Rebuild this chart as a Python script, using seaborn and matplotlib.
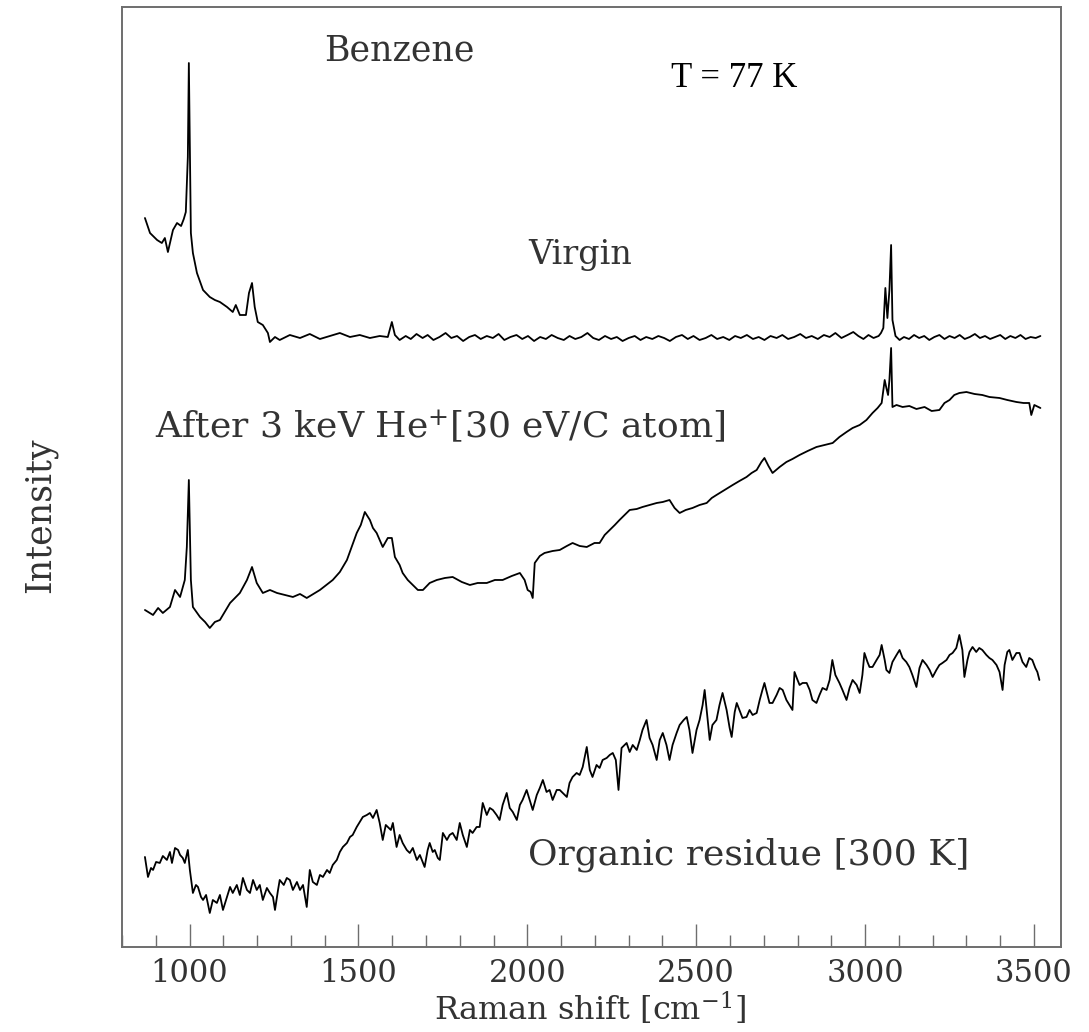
import matplotlib
matplotlib.use("Agg")
import matplotlib.pyplot as plt
import seaborn as sns
import pandas as pd
from matplotlib.ticker import MultipleLocator

# ---------------- data (Raman shift in cm^-1, intensity in arbitrary units) ----------------
virgin_x = [868, 883, 904, 918, 927, 936, 951, 963, 975, 983, 989, 995, 998, 1001, 1004,
            1010, 1022, 1040, 1060, 1075, 1090, 1111, 1128, 1137, 1149, 1167, 1176, 1185,
            1193, 1202, 1217, 1232, 1238, 1253, 1267, 1297, 1327, 1356, 1386, 1415, 1445,
            1475, 1504, 1534, 1563, 1587, 1599, 1608,
            1622, 1640, 1655, 1672, 1690, 1705, 1722, 1740, 1758, 1775, 1792, 1810, 1828,
            1845, 1862, 1880, 1898, 1915, 1932, 1950, 1968, 1985, 2002, 2020, 2038, 2055,
            2072, 2090, 2108, 2125, 2142, 2160, 2178, 2195, 2212, 2230, 2248, 2265, 2282,
            2300, 2318, 2335, 2352, 2370, 2388, 2405, 2422, 2440, 2458, 2475, 2492, 2510,
            2528, 2545, 2562, 2580, 2598, 2615, 2632, 2650, 2668, 2685, 2702, 2720, 2738,
            2755, 2772, 2790, 2808, 2825, 2842, 2860, 2878, 2895, 2912, 2930, 2948, 2965,
            2980, 2995, 3010, 3025, 3040, 3047, 3054, 3060, 3066, 3072, 3077, 3081, 3090,
            3102, 3115, 3130, 3145, 3160, 3175, 3190, 3205, 3220, 3235, 3250, 3265, 3280,
            3295, 3310, 3325, 3340, 3355, 3370, 3385, 3400, 3415, 3430, 3445, 3460, 3475,
            3490, 3505, 3519]
virgin_y = [729, 714, 707, 704, 709, 695, 717, 724, 721, 728, 735, 790, 884, 797, 714,
            694, 674, 657, 650, 647, 645, 640, 635, 642, 632, 632, 654, 664,
            640, 625, 622, 614, 605, 610, 607, 612, 609, 613, 608, 611, 614,
            610, 612, 609, 611, 610, 625, 612,
            607, 611, 608, 613, 609, 612, 607, 610, 614, 609, 611, 606, 610,
            612, 608, 611, 609, 613, 607, 610, 612, 608, 611, 606, 610, 608,
            612, 609, 607, 611, 608, 610, 614, 609, 607, 611, 608, 610, 606,
            609, 611, 607, 610, 608, 611, 609, 606, 610, 612, 608, 611, 607,
            609, 612, 608, 610, 607, 611, 609, 612, 608, 610, 607, 611, 609,
            612, 608, 610, 613, 609, 611, 608, 612, 610, 614, 609, 612, 615,
            611, 608, 612, 609, 611, 614, 619, 659, 629, 657, 702, 627, 611,
            607, 610, 608, 612, 609, 611, 607, 610, 612, 608, 611, 609, 612,
            608, 610, 613, 609, 611, 608, 610, 612, 608, 611, 609, 612, 608,
            610, 609, 611]

irradiated_x = [868, 892, 907, 921, 942, 957, 972, 986, 992, 998, 1004, 1010, 1031, 1046,
                1060, 1075, 1090, 1120, 1149, 1170, 1185, 1199, 1217, 1238, 1259, 1282,
                1306, 1327, 1347, 1386, 1424, 1445, 1466, 1495, 1507, 1519, 1534, 1543,
                1554, 1572, 1587, 1599, 1608, 1622, 1631, 1646, 1661, 1676, 1691, 1711,
                1732, 1756, 1779, 1806, 1830, 1853, 1880, 1904, 1927, 1954, 1978, 1992,
                2001, 2010, 2016, 2022, 2037, 2051, 2075, 2096, 2117, 2134, 2155, 2176,
                2199, 2214, 2229, 2244, 2259, 2273, 2288, 2303, 2324, 2341, 2362, 2383,
                2401, 2421, 2436, 2451, 2469, 2489, 2510, 2531, 2546, 2560, 2584, 2608,
                2628, 2649, 2664, 2679, 2693, 2702, 2714, 2726, 2747, 2767, 2785, 2806,
                2830, 2856, 2880, 2904, 2924, 2945, 2963, 2984, 3004, 3022, 3037, 3049,
                3058, 3063, 3068, 3072, 3077, 3081, 3093, 3111, 3131, 3152, 3176, 3197,
                3220, 3235, 3250, 3264, 3279, 3300, 3324, 3347, 3368, 3398, 3421, 3448,
                3469, 3486, 3492, 3501, 3519]
irradiated_y = [337, 332, 339, 334, 340, 357, 350, 367, 400, 467, 367, 340, 330, 325,
                319, 325, 327, 344, 354, 367, 380, 364, 354, 357, 354, 352,
                350, 353, 349, 357, 367, 375, 387, 414, 422, 435, 427, 419,
                414, 400, 409, 409, 390, 382, 374, 367, 362, 357, 357, 364,
                367, 369, 370, 365, 362, 364, 364, 367, 367, 371, 374, 367,
                357, 355, 349, 384, 391, 394, 396, 397, 401, 404, 401, 400,
                404, 404, 412, 417, 422, 427, 432, 437, 438, 440, 442, 444,
                445, 447, 439, 434, 437, 439, 442, 444, 449, 452, 457, 462,
                466, 470, 474, 477, 485, 489, 481, 474, 480, 485, 488, 492,
                496, 500, 502, 504, 510, 515, 519, 522, 527, 534, 539, 544,
                567, 559, 552, 567, 599, 540, 542, 540, 541, 538, 540, 536,
                537, 544, 547, 552, 554, 555, 553, 552, 550, 549, 547, 545,
                544, 544, 532, 542, 539]

residue_x = [868, 877, 886, 892, 901, 912, 921, 933, 942, 948, 957, 966, 972, 980, 986,
             995, 1001, 1010, 1019, 1025, 1034, 1040, 1049, 1060, 1069, 1081, 1090, 1099,
             1108, 1120, 1128, 1140, 1149, 1158, 1170, 1179, 1188, 1199, 1208, 1217, 1229,
             1238, 1247, 1253, 1262, 1267, 1279, 1288, 1297, 1306, 1318, 1327, 1336, 1347,
             1356, 1365, 1377, 1386, 1395, 1407, 1415, 1424, 1436, 1445, 1454, 1466, 1475,
             1483, 1495, 1504, 1513, 1525, 1534, 1543, 1554, 1563, 1572, 1581, 1587, 1596,
             1602, 1613, 1622, 1631, 1643, 1652, 1661, 1673, 1682, 1690, 1696, 1705, 1711,
             1720, 1726, 1735, 1741, 1750, 1762, 1770, 1779, 1791, 1800, 1809, 1821, 1830,
             1838, 1850, 1859, 1868, 1880, 1889, 1898, 1909, 1918, 1927, 1939, 1948, 1957,
             1969, 1978, 1986, 1998, 2007, 2016, 2028, 2037, 2046, 2057, 2066, 2075, 2087,
             2096, 2105, 2117, 2125, 2134, 2146, 2155, 2164, 2176, 2185, 2193, 2205, 2214,
             2223, 2235, 2244, 2253, 2262, 2270, 2279, 2294, 2303, 2312, 2324, 2333, 2341,
             2353, 2362, 2371, 2383, 2392, 2401, 2412, 2421, 2430, 2442, 2451, 2463, 2472,
             2480, 2489, 2501, 2510, 2519, 2525, 2534, 2540, 2548, 2560, 2569, 2578, 2590,
             2599, 2605, 2614, 2620, 2628, 2637, 2649, 2658, 2667, 2679, 2688, 2696, 2702,
             2711, 2717, 2726, 2738, 2747, 2756, 2767, 2776, 2785, 2791, 2800, 2806, 2815,
             2827, 2836, 2844, 2856, 2865, 2874, 2886, 2895, 2903, 2912, 2924, 2933, 2945,
             2954, 2963, 2975, 2984, 2992, 2998, 3007, 3013, 3022, 3034, 3043, 3049, 3058,
             3063, 3072, 3081, 3093, 3102, 3111, 3122, 3131, 3140, 3152, 3161, 3170, 3182,
             3191, 3200, 3211, 3220, 3229, 3241, 3250, 3259, 3270, 3279, 3288, 3294, 3303,
             3309, 3318, 3329, 3338, 3347, 3359, 3368, 3377, 3389, 3398, 3407, 3413, 3421,
             3427, 3436, 3448, 3457, 3466, 3477, 3486, 3495, 3504, 3510, 3516]
residue_y = [90, 70, 79, 77, 85, 84, 91, 87, 95, 84, 99, 97, 92, 89, 84,
             97, 77, 54, 62, 60, 50, 47, 52, 34, 47, 44, 52, 37,
             47, 60, 54, 62, 52, 69, 57, 54, 67, 57, 62, 47, 59,
             54, 50, 37, 57, 67, 62, 69, 67, 57, 65, 57, 62, 40,
             77, 65, 62, 72, 70, 77, 74, 82, 87, 95, 100, 104, 110,
             112, 120, 125, 130, 132, 134, 129, 137, 124, 107, 122, 120, 117,
             124, 100, 112, 104, 97, 94, 99, 87, 92, 85, 80, 97, 104,
             95, 97, 89, 87, 114, 107, 112, 114, 107, 124, 112, 100, 117,
             114, 120, 120, 144, 132, 139, 137, 132, 127, 142, 154, 139, 135,
             127, 142, 147, 157, 147, 137, 152, 159, 167, 155, 157, 147, 157,
             157, 154, 150, 164, 170, 174, 172, 180, 200, 177, 170, 182, 179,
             187, 189, 192, 194, 187, 157, 199, 204, 195, 202, 197, 207, 217,
             227, 209, 202, 187, 207, 214, 202, 187, 202, 214, 222, 227, 230,
             217, 194, 217, 227, 242, 257, 227, 207, 222, 227, 242, 254, 237,
             219, 210, 235, 244, 237, 229, 230, 237, 232, 234, 247, 257, 264,
             252, 244, 244, 252, 259, 257, 247, 242, 237, 275, 267, 262, 264,
             264, 257, 247, 244, 252, 259, 257, 267, 287, 272, 264, 257, 247,
             259, 267, 262, 254, 272, 294, 285, 280, 280, 287, 292, 302, 287,
             277, 274, 285, 292, 297, 289, 285, 280, 272, 260, 279, 287, 282,
             277, 270, 277, 282, 284, 287, 292, 294, 299, 312, 297, 270, 287,
             295, 300, 295, 299, 297, 292, 289, 287, 282, 275, 257, 282, 295,
             297, 287, 294, 294, 285, 280, 289, 287, 279, 275, 267]

x_tick_values = [1000, 1500, 2000, 2500, 3000, 3500]

# ---------------- style ----------------
sns.set_style("white")
plt.rcParams['font.family'] = ['DejaVu Serif']
plt.rcParams['mathtext.fontset'] = 'dejavuserif'

text_color = '#333333'
spine_color = '#6e6e6e'

fig = plt.figure(figsize=(10.89, 10.32), dpi=100)
ax = fig.add_axes([0.112, 0.0824, 0.8623, 0.9108])

frames = [
    pd.DataFrame({'shift': virgin_x, 'intensity': virgin_y}),
    pd.DataFrame({'shift': irradiated_x, 'intensity': irradiated_y}),
    pd.DataFrame({'shift': residue_x, 'intensity': residue_y}),
]
for df in frames:
    sns.lineplot(data=df, x='shift', y='intensity', ax=ax, color='black',
                 lw=1.3, estimator=None, sort=False)

ax.set_xlim(800, 3580)
ax.set_ylim(0, 940)
ax.set_xticks(x_tick_values)
ax.xaxis.set_minor_locator(MultipleLocator(100))
ax.set_yticks([])
ax.tick_params(axis='x', which='major', direction='in', length=16.5, width=1.0,
               color=spine_color, labelsize=22, pad=8, labelcolor=text_color,
               bottom=True, top=False)
ax.tick_params(axis='x', which='minor', direction='in', length=8.6, width=1.0,
               color=spine_color, bottom=True, top=False)
for s in ax.spines.values():
    s.set_color(spine_color)
    s.set_linewidth(1.4)

ax.set_xlabel(r'Raman shift [cm$^{-1}$]', fontsize=23, color=text_color)
ax.xaxis.set_label_coords((590 - 122) / 939, -(1009 - 947) / 940)
ax.xaxis.label.set_verticalalignment('center')
ax.set_ylabel('Intensity', fontsize=25, color=text_color)
ax.yaxis.set_label_coords((40 - 122) / 939, (947 - 515) / 940)
ax.yaxis.label.set_verticalalignment('center')

ax.text(1622, 897, 'Benzene', fontsize=25, color=text_color, ha='center', va='center')
ax.text(2611, 869, 'T = 77 K', fontsize=25, color='black', ha='center', va='center',
        family='Liberation Serif')
ax.text(2155, 692, 'Virgin', fontsize=24, color=text_color, ha='center', va='center')
ax.text(898, 520, r'After 3 keV He$^{+}$[30 eV/C atom]', fontsize=26, color=text_color,
        ha='left', va='center')
ax.text(2001, 92, 'Organic residue [300 K]', fontsize=26, color=text_color,
        ha='left', va='center')

fig.savefig('out.png', dpi=100)
